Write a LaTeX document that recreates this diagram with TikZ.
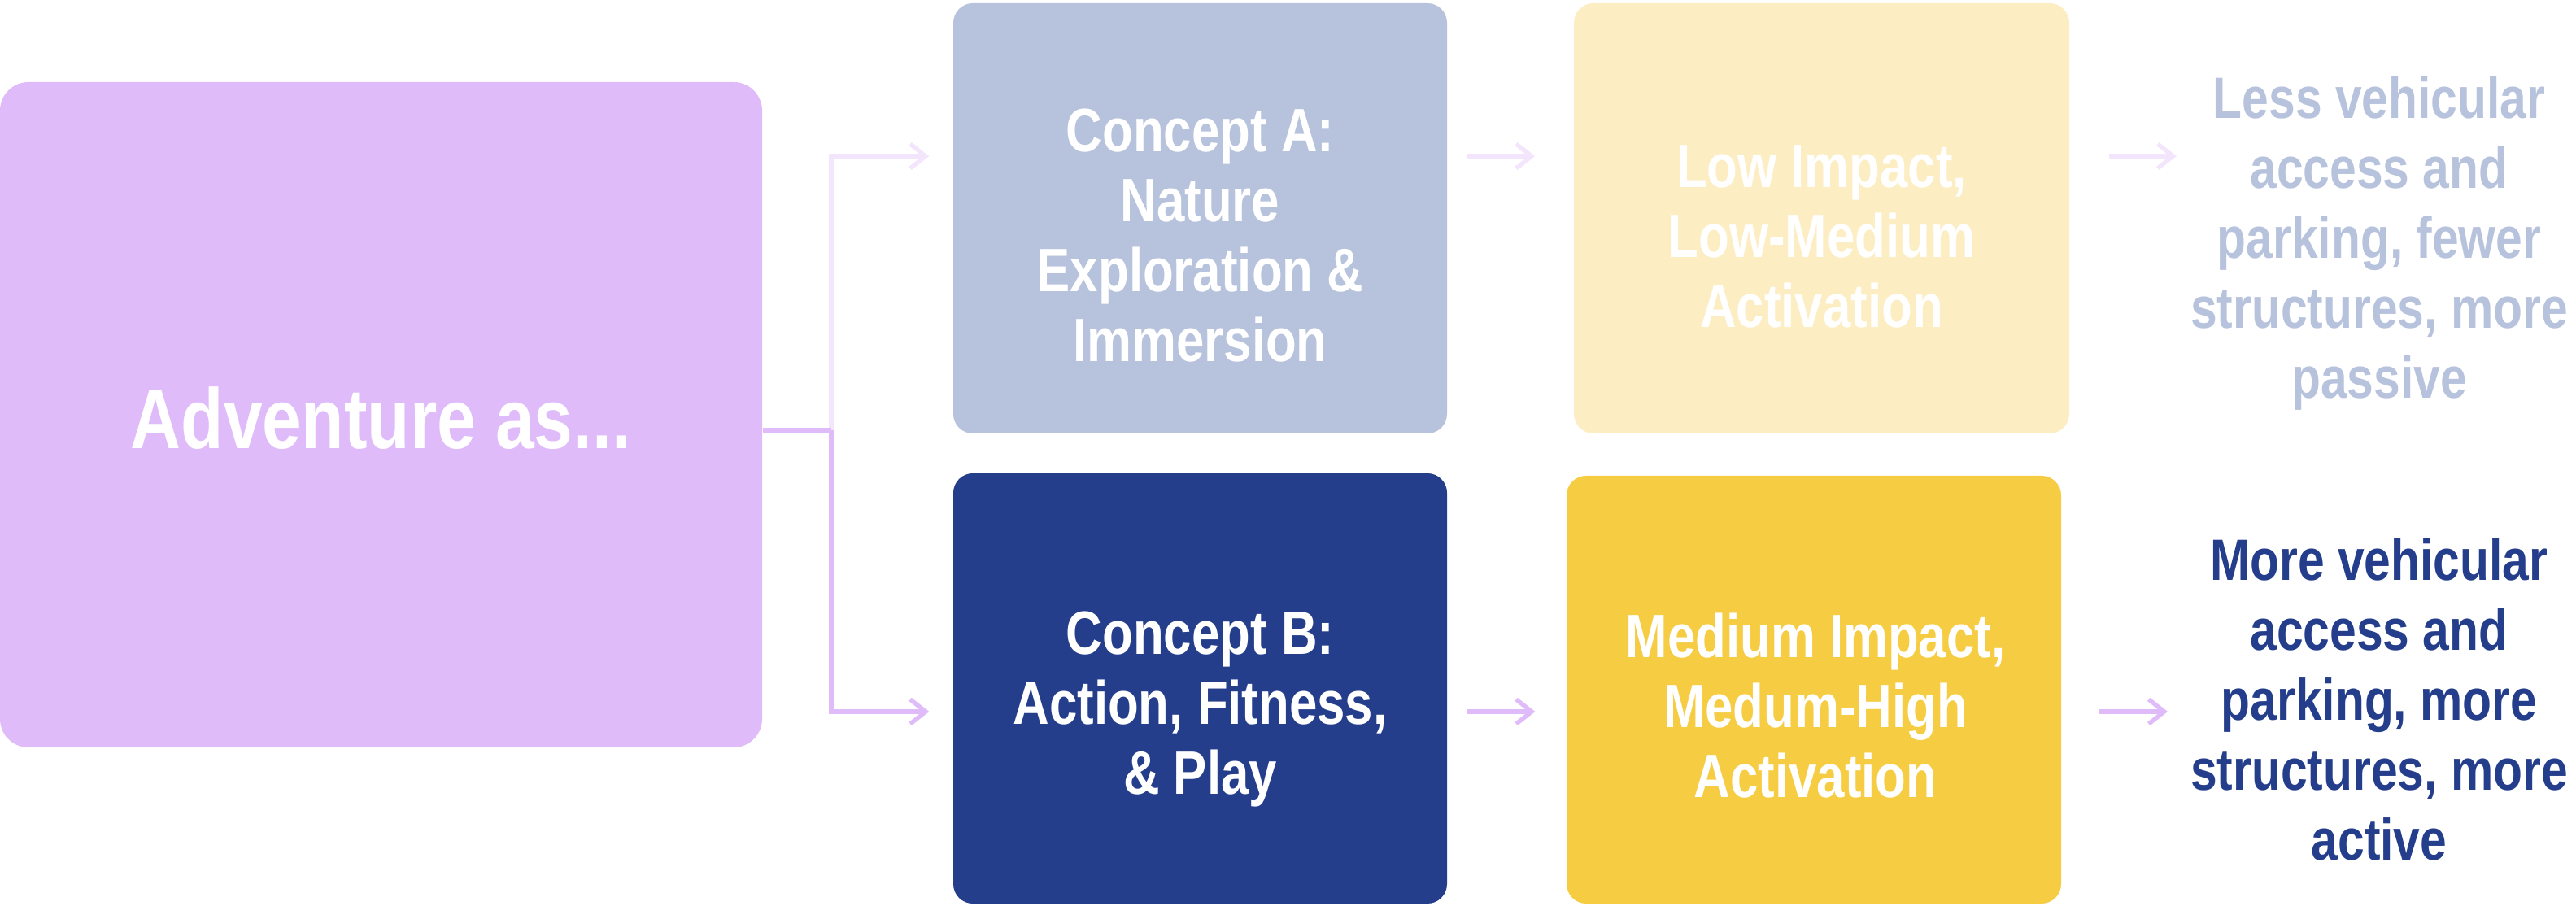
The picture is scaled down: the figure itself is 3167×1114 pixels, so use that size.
\documentclass[tikz,border=0pt]{standalone}
\usepackage{fontspec}
\setmainfont{Liberation Sans}
\newfontfamily\condfont[FakeStretch=0.82]{Liberation Sans}
\newfontfamily\sidefont[FakeStretch=0.82]{Liberation Sans}
\usetikzlibrary{arrows.meta}
\definecolor{lav}{HTML}{E0BBFA}
\definecolor{lavlight}{HTML}{F3E6FC}
\definecolor{slate}{HTML}{B7C2DC}
\definecolor{navy}{HTML}{253E8C}
\definecolor{cream}{HTML}{FCEDC3}
\definecolor{gold}{HTML}{F6CC43}
\begin{document}
\begin{tikzpicture}[x=0.3pt,y=-0.3pt,
  box/.style={rectangle, rounded corners=7.2pt, inner sep=0pt, draw=none},
  boxtext/.style={align=center, text=white, inner sep=0pt,
    font=\condfont\bfseries\fontsize{22.6pt}{25.8pt}\selectfont},
  sidetext/.style={align=center, inner sep=0pt,
    font=\sidefont\bfseries\fontsize{21.5pt}{25.8pt}\selectfont},
  link/.style={line width=1.6pt},
  conn/.style={line width=1.6pt, -{Straight Barb[length=5.7pt,width=9pt]}}]
\useasboundingbox (0,0) rectangle (3167,1114);

% boxes
\node[box, rounded corners=10.5pt, fill=lav, minimum width=281.1pt, minimum height=245.4pt] (main) at (468.5,510) {};
\node[box, fill=slate, minimum width=182.1pt, minimum height=158.7pt] (ca) at (1475.5,268.5) {};
\node[box, fill=navy, minimum width=182.1pt, minimum height=158.7pt] (cb) at (1475.5,846.5) {};
\node[box, fill=cream, minimum width=182.7pt, minimum height=158.7pt] (la) at (2239.5,268.5) {};
\node[box, fill=gold, minimum width=182.4pt, minimum height=157.8pt] (lb) at (2230,848) {};

% texts
\node[align=center, text=white, inner sep=0pt,
  font=\condfont\bfseries\fontsize{31.4pt}{36pt}\selectfont] (mainT) at (468.5,514) {Adventure as...};
\node[boxtext] (caT) at (1475.5,290) {Concept A:\\Nature\\Exploration \&\\Immersion};
\node[boxtext] (cbT) at (1475.5,872) {Concept B:\\Action, Fitness,\\\& Play};
\node[boxtext] (laT) at (2239.5,291) {Low Impact,\\Low-Medium\\Activation};
\node[boxtext] (lbT) at (2232,867.5) {Medium Impact,\\Medum-High\\Activation};
\node[sidetext, text=slate] (raT) at (2925,299) {Less vehicular\\access and\\parking, fewer\\structures, more\\passive};
\node[sidetext, text=navy] (rbT) at (2925,859.5) {More vehicular\\access and\\parking, more\\structures, more\\active};

% reference levels and free ends
\coordinate (j) at (1022,529);
\coordinate (aA) at (0,192);
\coordinate (aB) at (0,875);
\coordinate (tRA) at (2676,192);
\coordinate (tRB) at (2665,875);

% connectors
\draw[conn, lavlight, shorten >=8.7pt] (j) |- (ca.west |- aA);
\draw[link, lav] (main.east |- j) -- (j);
\draw[conn, lav, shorten >=8.7pt] (j) |- (cb.west |- aB);

\draw[conn, lavlight, shorten <=6.9pt, shorten >=14.1pt] (ca.east |- aA) -- (la.west |- aA);
\draw[conn, lav, shorten <=6.9pt, shorten >=11.4pt] (cb.east |- aB) -- (lb.west |- aB);

\draw[conn, lavlight, shorten <=14.4pt] (la.east |- aA) -- (tRA);
\draw[conn, lav, shorten <=13.8pt] (lb.east |- aB) -- (tRB);
\end{tikzpicture}
\end{document}
